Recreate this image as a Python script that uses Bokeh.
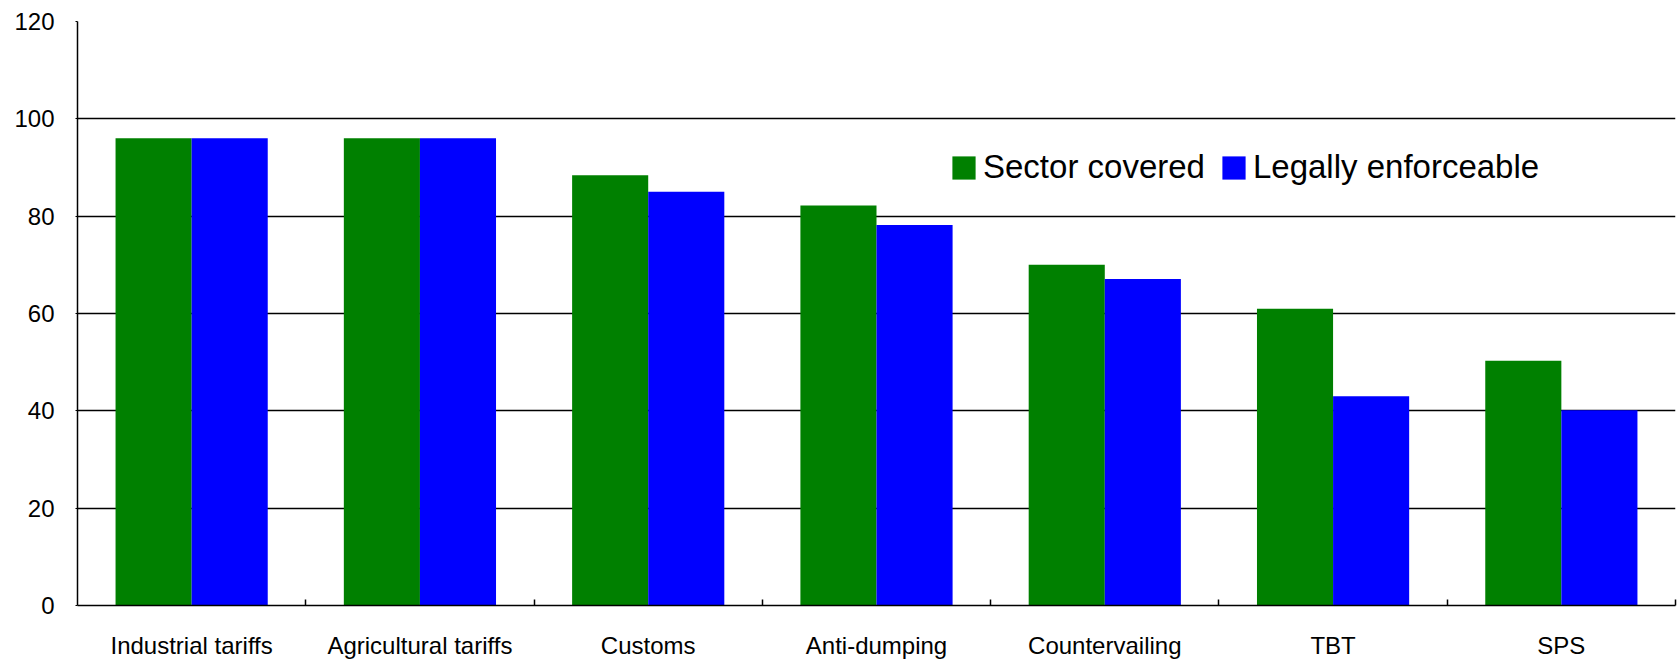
from bokeh.plotting import figure
from bokeh.models import Range1d, FixedTicker, Legend, LegendItem
from bokeh.embed import file_html
from bokeh.resources import INLINE

categories = ["Industrial tariffs", "Agricultural tariffs", "Customs", "Anti-dumping",
              "Countervailing", "TBT", "SPS"]
sector_covered = [96, 96, 88.4, 82.2, 70, 61, 50.3]
legally_enforceable = [96, 96, 85, 78.2, 67.1, 43, 40.1]
y_ticks = [0, 20, 40, 60, 80, 100, 120]
series_names = ["Sector covered", "Legally enforceable"]
colors = ["#008000", "#0000FF"]

n = len(categories)
centers = [i + 1 for i in range(n)]
bounds = [i + 1.5 for i in range(n)]

p = figure(width=1679, height=661, output_backend="svg", toolbar_location=None,
           x_range=Range1d(0.5, n + 0.5), y_range=Range1d(0, 120),
           min_border_left=77, min_border_right=4, min_border_top=21, min_border_bottom=52)
p.outline_line_color = None
p.background_fill_color = "white"
p.border_fill_color = "white"

bw = 1 / 3
r1 = p.vbar(x=[c - bw / 2 for c in centers], top=sector_covered, width=bw,
            fill_color=colors[0], line_color=None)
r2 = p.vbar(x=[c + bw / 2 for c in centers], top=legally_enforceable, width=bw,
            fill_color=colors[1], line_color=None)

font = "Liberation Sans"

# x axis
xa = p.xaxis[0]
xa.ticker = FixedTicker(ticks=centers, minor_ticks=bounds)
xa.major_label_overrides = {c: lab for c, lab in zip(centers, categories)}
xa.major_tick_line_color = None
xa.minor_tick_in = 6
xa.minor_tick_out = 0
xa.minor_tick_line_color = "black"
xa.minor_tick_line_width = 1.5
xa.axis_line_color = "black"
xa.axis_line_width = 1.5
xa.major_label_text_font = font
xa.major_label_text_font_size = "24px"
xa.major_label_text_color = "black"
xa.major_label_standoff = 20

# y axis
ya = p.yaxis[0]
ya.ticker = FixedTicker(ticks=y_ticks)
ya.major_tick_in = 0
ya.major_tick_out = 2
ya.major_tick_line_color = "black"
ya.minor_tick_line_color = None
ya.axis_line_color = "black"
ya.axis_line_width = 1.5
ya.major_label_text_font = font
ya.major_label_text_font_size = "24px"
ya.major_label_text_color = "black"
ya.major_label_standoff = 21

p.xgrid.grid_line_color = None
p.ygrid.ticker = FixedTicker(ticks=y_ticks[1:])
p.ygrid.grid_line_color = "black"
p.ygrid.grid_line_width = 1.5

legend = Legend(items=[LegendItem(label=series_names[0], renderers=[r1]),
                       LegendItem(label=series_names[1], renderers=[r2])],
                orientation="horizontal", location=(872, 419),
                glyph_width=29, glyph_height=29, label_standoff=5, spacing=14,
                padding=0, margin=0, border_line_color=None,
                background_fill_alpha=0,
                label_text_font=font, label_text_font_size="33px",
                label_text_color="black", label_height=29)
p.add_layout(legend, "center")

open("out.html", "w").write(file_html(p, INLINE))
